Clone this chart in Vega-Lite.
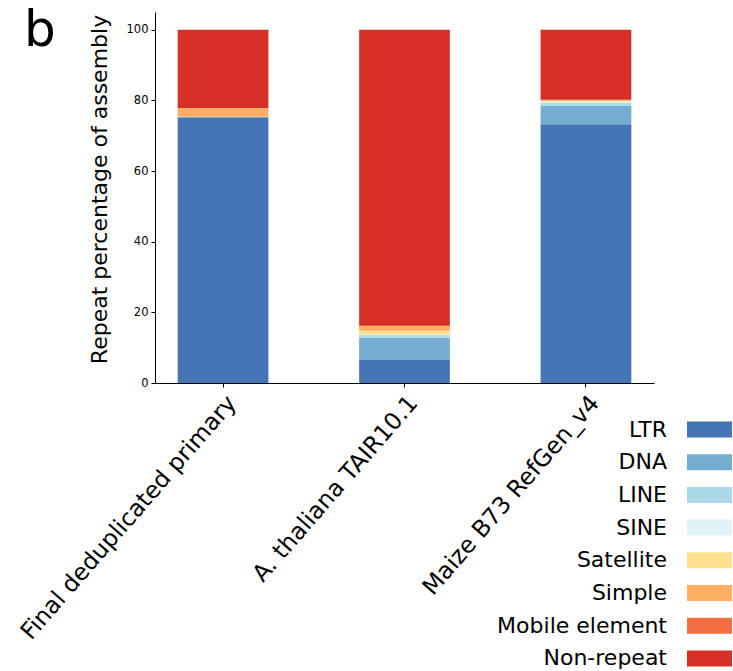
{
  "$schema": "https://vega.github.io/schema/vega-lite/v6.json",
  "autosize": {"type": "none"},
  "width": 499,
  "height": 371,
  "padding": {"left": 155, "top": 12, "right": 79, "bottom": 288},
  "background": "white",
  "config": {
    "view": {"stroke": null},
    "font": "DejaVu Sans",
    "axis": {"domainColor": "#000000", "tickColor": "#000000", "labelColor": "#000000", "titleColor": "#000000", "grid": false, "tickSize": 4, "domainWidth": 1, "tickWidth": 1, "labelFont": "DejaVu Sans", "titleFont": "DejaVu Sans", "titleFontWeight": "normal"}
  },
  "title": {"text": "b", "fontSize": 50, "font": "DejaVu Sans", "fontWeight": "normal", "anchor": "start", "frame": "group", "orient": "top", "baseline": "bottom", "offset": -94, "dx": -131, "color": "#000000"},
  "data": {"values": [
    {"assembly": "Final deduplicated primary", "type": "LTR", "percent": 75.0},
    {"assembly": "Final deduplicated primary", "type": "DNA", "percent": 0.25},
    {"assembly": "Final deduplicated primary", "type": "LINE", "percent": 0.05},
    {"assembly": "Final deduplicated primary", "type": "SINE", "percent": 0.0},
    {"assembly": "Final deduplicated primary", "type": "Satellite", "percent": 0.05},
    {"assembly": "Final deduplicated primary", "type": "Simple", "percent": 2.4},
    {"assembly": "Final deduplicated primary", "type": "Mobile element", "percent": 0.1},
    {"assembly": "Final deduplicated primary", "type": "Non-repeat", "percent": 22.15},
    {"assembly": "A. thaliana TAIR10.1", "type": "LTR", "percent": 6.5},
    {"assembly": "A. thaliana TAIR10.1", "type": "DNA", "percent": 6.3},
    {"assembly": "A. thaliana TAIR10.1", "type": "LINE", "percent": 0.8},
    {"assembly": "A. thaliana TAIR10.1", "type": "SINE", "percent": 0.1},
    {"assembly": "A. thaliana TAIR10.1", "type": "Satellite", "percent": 1.1},
    {"assembly": "A. thaliana TAIR10.1", "type": "Simple", "percent": 1.3},
    {"assembly": "A. thaliana TAIR10.1", "type": "Mobile element", "percent": 0.1},
    {"assembly": "A. thaliana TAIR10.1", "type": "Non-repeat", "percent": 83.8},
    {"assembly": "Maize B73 RefGen_v4", "type": "LTR", "percent": 73.2},
    {"assembly": "Maize B73 RefGen_v4", "type": "DNA", "percent": 5.3},
    {"assembly": "Maize B73 RefGen_v4", "type": "LINE", "percent": 0.8},
    {"assembly": "Maize B73 RefGen_v4", "type": "SINE", "percent": 0.3},
    {"assembly": "Maize B73 RefGen_v4", "type": "Satellite", "percent": 0.3},
    {"assembly": "Maize B73 RefGen_v4", "type": "Simple", "percent": 0.2},
    {"assembly": "Maize B73 RefGen_v4", "type": "Mobile element", "percent": 0.1},
    {"assembly": "Maize B73 RefGen_v4", "type": "Non-repeat", "percent": 19.8}
  ]},
  "transform": [
    {"calculate": "indexof(['LTR','DNA','LINE','SINE','Satellite','Simple','Mobile element','Non-repeat'], datum.type)", "as": "stackOrder"}
  ],
  "mark": {"type": "bar"},
  "encoding": {
    "x": {
      "field": "assembly", "type": "nominal",
      "sort": ["Final deduplicated primary", "A. thaliana TAIR10.1", "Maize B73 RefGen_v4"],
      "scale": {"paddingInner": 0.5, "paddingOuter": 0.125},
      "axis": {"title": null, "labelAngle": -49, "labelAlign": "right", "labelBaseline": "top", "labelFontSize": 23.5, "labelPadding": 4, "labelLimit": 0}
    },
    "y": {
      "field": "percent", "type": "quantitative", "stack": "zero",
      "scale": {"domain": [0, 105], "nice": false},
      "axis": {"title": "Repeat percentage of assembly", "values": [0, 20, 40, 60, 80, 100], "labelFontSize": 11.5, "titleFontSize": 22, "titlePadding": 15, "titleY": 177, "labelPadding": 3}
    },
    "order": {"field": "stackOrder", "type": "quantitative", "sort": "ascending"},
    "color": {
      "field": "type", "type": "nominal",
      "scale": {
        "domain": ["LTR", "DNA", "LINE", "SINE", "Satellite", "Simple", "Mobile element", "Non-repeat"],
        "range": ["#4575b4", "#74add1", "#abd9e9", "#e0f3f8", "#fee090", "#fdae61", "#f46d43", "#d73027"]
      },
      "legend": {
        "title": null, "orient": "none", "legendX": 539.5, "legendY": 402.5,
        "symbolType": "M-1.5,-0.533H1.5V0.533H-1.5Z", "symbolSize": 900, "symbolStrokeWidth": 0, "symbolOpacity": 1,
        "labelFontSize": 22, "labelAlign": "right", "labelOffset": -57.5, "labelColor": "#000000", "labelLimit": 0,
        "rowPadding": 6.7
      }
    }
  }
}
